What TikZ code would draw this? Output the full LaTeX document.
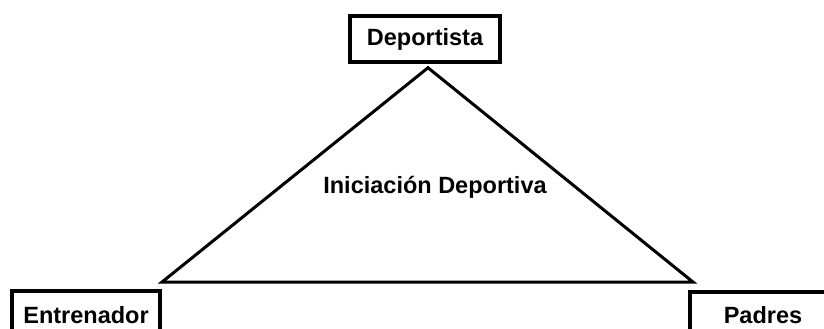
\documentclass[tikz,border=0pt]{standalone}
\usepackage{fontspec}
\setmainfont{Liberation Sans}
\usetikzlibrary{positioning,calc}

\begin{document}
\begin{tikzpicture}[x=1pt,y=1pt,
  rolebox/.style={draw,line width=3.5pt,font=\bfseries\fontsize{23.5}{28}\selectfont,
    inner sep=0pt,minimum height=46pt},
  side/.style={line width=3pt,line join=miter}]
  \useasboundingbox (0,0) rectangle (824,329);
  \clip (0,0) rectangle (824,329);
  \node[rolebox,minimum width=150pt] (dep) at (425,290) {Deportista};
  \node[rolebox,minimum width=148pt,minimum height=48pt] (ent) at (86,14) {Entrenador};
  \node[rolebox,minimum width=146pt] (pad) at (763,14) {Padres};
  \node[font=\bfseries\fontsize{23.5}{28}\selectfont] (ini) at (435,142) {Iniciación Deportiva};
  \coordinate (apex) at ([xshift=3pt,yshift=-4pt]dep.south);
  \coordinate (bl) at ([yshift=7pt]ent.north east);
  \coordinate (br) at ([xshift=5pt,yshift=8pt]pad.north west);
  \draw[side] (apex) -- (bl) -- (br) -- cycle;
\end{tikzpicture}
\end{document}
